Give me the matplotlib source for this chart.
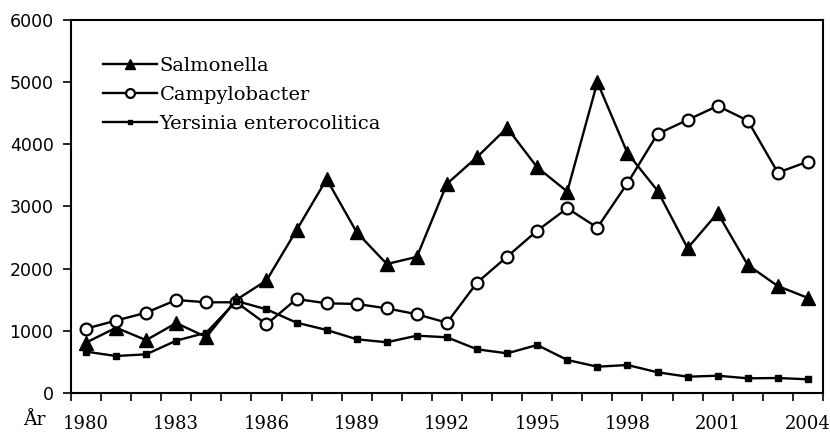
import numpy as np
import matplotlib.pyplot as plt
from matplotlib.ticker import FixedLocator, NullFormatter

years = list(range(1980, 2005))
salmonella = [810, 1050, 850, 1125, 900, 1500, 1810, 2620, 3440, 2585, 2075, 2190, 3365,
              3795, 4265, 3630, 3240, 5000, 3860, 3255, 2330, 2895, 2060, 1720, 1530]
campylobacter = [1035, 1165, 1292, 1496, 1459, 1459, 1105, 1512, 1443, 1432, 1362, 1266, 1131,
                 1775, 2193, 2611, 2972, 2660, 3374, 4167, 4393, 4618, 4382, 3545, 3722]
yersinia = [665, 595, 622, 842, 970, 1480, 1346, 1131, 1014, 864, 816, 922, 896,
            703, 638, 772, 531, 423, 450, 333, 262, 278, 236, 241, 220]
tick_years = years[::3]

plt.rcParams['font.family'] = 'DejaVu Serif'
plt.rcParams['font.size'] = 12.5

fig = plt.figure(figsize=(8.3, 4.32), dpi=100)
ax = fig.add_axes([0.0855, 0.0903, 0.906, 0.8634])

x = np.arange(len(years))
ax.plot(x, salmonella, color='black', lw=1.7, marker='^', ms=10, label='Salmonella')
ax.plot(x, campylobacter, color='black', lw=1.7, marker='o', ms=8.5, mfc='white',
        mew=1.6, label='Campylobacter')
ax.plot(x, yersinia, color='black', lw=1.7, marker='s', ms=4.5, label='Yersinia enterocolitica')

ax.set_xlim(-0.5, len(years) - 0.5)
ax.set_ylim(0, 6000)
ax.set_yticks(range(0, 6001, 1000))
for lab in ax.get_yticklabels():
    lab.set_fontfamily('DejaVu Sans')

# category boundaries get the tick marks, labels sit under every third year
ax.xaxis.set_major_locator(FixedLocator(np.arange(-0.5, len(years), 1)))
ax.xaxis.set_major_formatter(NullFormatter())
ax.set_xticks([years.index(y) for y in tick_years], minor=True)
ax.set_xticklabels([str(y) for y in tick_years], minor=True, fontsize=13)
ax.tick_params(axis='x', which='major', direction='out', length=5.5, width=1.2)
ax.tick_params(axis='x', which='minor', length=0, pad=16)
ax.tick_params(axis='y', direction='out', length=6, width=1.2, pad=6.5)

for s in ax.spines.values():
    s.set_linewidth(1.5)

ax.legend(loc='upper left', frameon=False, fontsize=14, handlelength=2.8,
          handletextpad=0.1, labelspacing=0.56, borderpad=0, markerscale=0.75,
          bbox_to_anchor=(0.0426, 0.90), borderaxespad=0)

fig.text(0.041, 0.028, 'År', ha='center', va='center', fontsize=13.5)

fig.savefig('out.png', dpi=100)
